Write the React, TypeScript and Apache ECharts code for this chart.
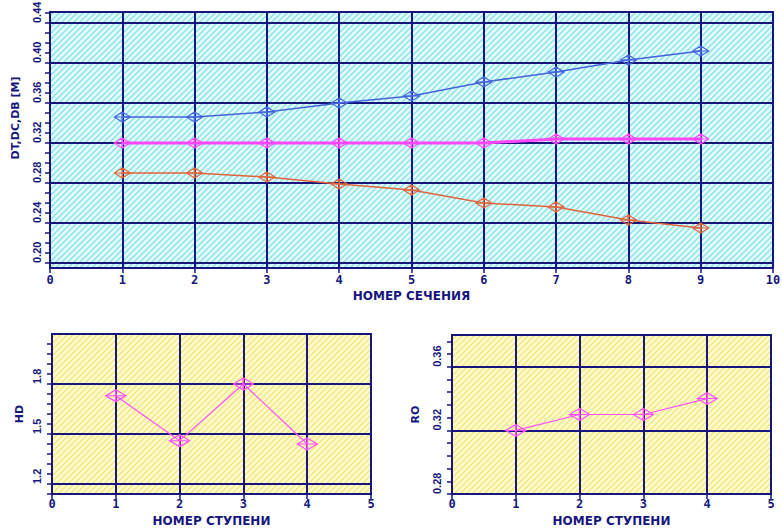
import React, { useEffect, useRef } from "react";
import * as echarts from "echarts";

// ---- data ----
const sections = [1, 2, 3, 4, 5, 6, 7, 8, 9];
const dtValues = [0.346, 0.346, 0.351, 0.36, 0.367, 0.381, 0.391, 0.403, 0.412];
const dcValues = [0.32, 0.32, 0.32, 0.32, 0.32, 0.32, 0.324, 0.324, 0.324];
const dbValues = [0.29, 0.29, 0.286, 0.279, 0.273, 0.26, 0.256, 0.243, 0.235];

const stages = [1, 2, 3, 4];
const hdValues = [1.73, 1.46, 1.8, 1.44];
const roValues = [0.32, 0.33, 0.33, 0.34];

// ---- tick labels / grid values ----
const topLabels = [0.2, 0.24, 0.28, 0.32, 0.36, 0.4, 0.44];
const topTicks = [
  0.2, 0.21, 0.22, 0.23, 0.24, 0.25, 0.26, 0.27, 0.28, 0.29, 0.3, 0.31, 0.32,
  0.33, 0.34, 0.35, 0.36, 0.37, 0.38, 0.39, 0.4, 0.41, 0.42, 0.43, 0.44, 0.45,
];
const hdLabels = [1.2, 1.5, 1.8];
const hdTicks = [1.14, 1.2, 1.26, 1.32, 1.38, 1.44, 1.5, 1.56, 1.62, 1.68, 1.74, 1.8, 1.86, 1.92, 1.98, 2.04];
const hdGrid = [1.2, 1.5, 1.8];
const roLabels = [0.28, 0.32, 0.36];
const roTicks = [0.28, 0.288, 0.296, 0.304, 0.312, 0.32, 0.328, 0.336, 0.344, 0.352, 0.36, 0.368, 0.376];
const roGrid = [0.32, 0.36];

const NAVY = "#16167c";
const FONT = "DejaVu Sans Mono";
const NAME_FONT = "DejaVu Sans";
const YFONT = "Liberation Sans";
const MARKER = "path://M0,5L8,0L16,5L8,10ZM0,5L16,5M8,0L8,10";

function makePattern(base: string, stripe: string) {
  const c = document.createElement("canvas");
  c.width = 6;
  c.height = 6;
  const g = c.getContext("2d")!;
  g.fillStyle = base;
  g.fillRect(0, 0, 6, 6);
  g.strokeStyle = stripe;
  g.lineWidth = 1.5;
  g.beginPath();
  g.moveTo(-1, 7);
  g.lineTo(7, -1);
  g.moveTo(-1, 1);
  g.lineTo(1, -1);
  g.moveTo(5, 7);
  g.lineTo(7, 5);
  g.stroke();
  return { image: c, repeat: "repeat" };
}

function xAxisCfg(gridIndex: number, max: number, name: string, margin: number, gap: number) {
  return {
    type: "value",
    gridIndex,
    min: 0,
    max,
    interval: 1,
    name,
    nameLocation: "middle",
    nameGap: gap,
    nameTextStyle: { color: NAVY, fontFamily: NAME_FONT, fontWeight: "bold", fontSize: 12 },
    axisLine: { show: true, lineStyle: { color: NAVY, width: 2 } },
    axisTick: { show: true, inside: false, length: 5, lineStyle: { color: NAVY, width: 1.5 } },
    axisLabel: {
      color: NAVY,
      fontFamily: FONT,
      fontWeight: "bold",
      fontSize: 12,
      margin,
      showMinLabel: true,
      showMaxLabel: true,
    },
    splitLine: { show: true, lineStyle: { color: NAVY, width: 2 } },
  };
}

function yAxisCfg(
  gridIndex: number,
  min: number,
  max: number,
  ticks: number[],
  labels: number[],
  digits: number,
  name: string,
  nameGap: number,
  margin: number
) {
  return {
    type: "value",
    gridIndex,
    min,
    max,
    name,
    nameLocation: "middle",
    nameRotate: 90,
    nameGap,
    nameTextStyle: { color: NAVY, fontFamily: NAME_FONT, fontWeight: "bold", fontSize: 11 },
    axisLine: { show: true, lineStyle: { color: NAVY, width: 2 } },
    axisTick: {
      show: true,
      inside: false,
      length: 5,
      customValues: ticks,
      lineStyle: { color: NAVY, width: 1.5 },
    },
    axisLabel: {
      customValues: labels,
      rotate: 90,
      align: "left",
      verticalAlign: "bottom",
      margin,
      color: NAVY,
      fontFamily: YFONT,
      fontWeight: "bold",
      fontSize: 11,
      formatter: (v: number) => v.toFixed(digits),
    },
    splitLine: { show: false },
  };
}

function gridLineSeries(xAxisIndex: number, yAxisIndex: number, values: number[]) {
  return {
    type: "line",
    xAxisIndex,
    yAxisIndex,
    data: [],
    z: 1,
    silent: true,
    markLine: {
      silent: true,
      symbol: ["none", "none"],
      label: { show: false },
      emphasis: { disabled: true },
      lineStyle: { color: NAVY, width: 2, type: "solid" },
      data: values.map((v) => ({ yAxis: v })),
    },
  };
}

function dataSeries(
  name: string,
  xs: number[],
  ys: number[],
  color: string,
  width: number,
  xAxisIndex: number,
  yAxisIndex: number,
  size: number[]
) {
  return {
    type: "line",
    name,
    xAxisIndex,
    yAxisIndex,
    z: 5,
    data: xs.map((x, i) => [x, ys[i]]),
    symbol: MARKER,
    symbolSize: size,
    showAllSymbol: true,
    lineStyle: { color, width },
    itemStyle: { color: "rgba(0,0,0,0)", borderColor: color, borderWidth: 1.3 },
  };
}

export default function App() {
  const ref = useRef<HTMLDivElement>(null);
  useEffect(() => {
    if (!ref.current) return;
    const chart = echarts.init(ref.current, null, { renderer: "svg" });
    const cyan = makePattern("#e2fcfc", "#8ee2e8");
    const yellow = makePattern("#fffcca", "#f2e688");
    const option: any = {
      animation: false,
      backgroundColor: "#ffffff",
      grid: [
        {
          left: 50, top: 12, width: 723, height: 256, show: true,
          backgroundColor: cyan, borderColor: NAVY, borderWidth: 2, outerBoundsMode: "none",
        },
        {
          left: 52, top: 334, width: 319, height: 160, show: true,
          backgroundColor: yellow, borderColor: NAVY, borderWidth: 2, outerBoundsMode: "none",
        },
        {
          left: 452, top: 335, width: 319, height: 159, show: true,
          backgroundColor: yellow, borderColor: NAVY, borderWidth: 2, outerBoundsMode: "none",
        },
      ],
      xAxis: [
        xAxisCfg(0, 10, "НОМЕР СЕЧЕНИЯ", 6, 22),
        xAxisCfg(1, 5, "НОМЕР СТУПЕНИ", 4, 21),
        xAxisCfg(2, 5, "НОМЕР СТУПЕНИ", 4, 21),
      ],
      yAxis: [
        yAxisCfg(0, 0.195, 0.451, topTicks, topLabels, 2, "", 30, 8),
        yAxisCfg(1, 1.14, 2.1, hdTicks, hdLabels, 1, "HD", 27, 10),
        yAxisCfg(2, 0.28, 0.38, roTicks, roLabels, 2, "RO", 31, 10),
      ],
      graphic: [
        {
          type: "text",
          x: 15,
          y: 118,
          rotation: Math.PI / 2,
          style: {
            text: "DT,DC,DB [M]",
            fill: NAVY,
            font: `bold 11px ${NAME_FONT}`,
            align: "center",
            verticalAlign: "middle",
          },
        },
      ],
      series: [
        gridLineSeries(0, 0, topLabels),
        gridLineSeries(1, 1, hdGrid),
        gridLineSeries(2, 2, roGrid),
        dataSeries("DT", sections, dtValues, "#4664dc", 1.5, 0, 0, [16, 10]),
        dataSeries("DC", sections, dcValues, "#ff46ff", 3, 0, 0, [16, 10]),
        dataSeries("DB", sections, dbValues, "#e0643c", 1.5, 0, 0, [16, 10]),
        dataSeries("HD", stages, hdValues, "#ff50ff", 1.2, 1, 1, [20, 12]),
        dataSeries("RO", stages, roValues, "#ff50ff", 1.2, 2, 2, [20, 12]),
      ],
    };
    chart.setOption(option);
    return () => chart.dispose();
  }, []);
  return (
    <div
      ref={ref}
      style={{ position: "fixed", left: 0, top: 0, width: 782, height: 530, background: "#fff" }}
    />
  );
}
